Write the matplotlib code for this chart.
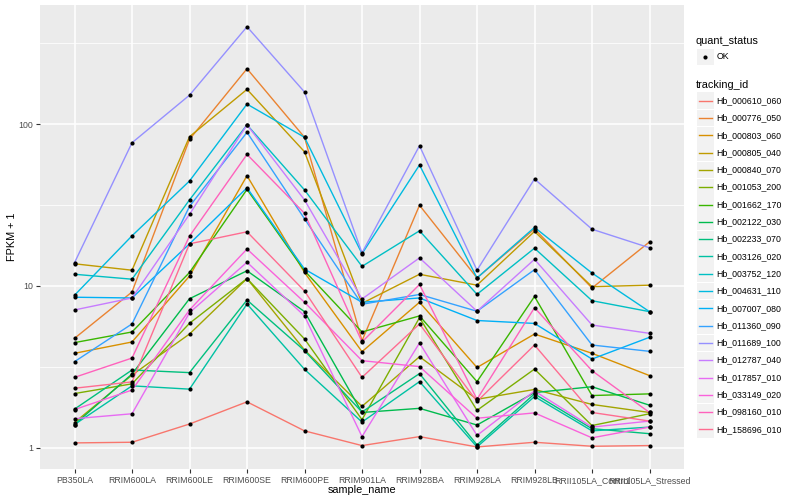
import matplotlib
matplotlib.use("Agg")
import matplotlib.pyplot as plt
from matplotlib.patches import Rectangle

plt.rcParams['font.family'] = ['Liberation Sans', 'DejaVu Sans']

# x categories
samples = ["PB350LA", "RRIM600LA", "RRIM600LE", "RRIM600SE", "RRIM600PE",
           "RRIM901LA", "RRIM928BA", "RRIM928LA", "RRIM928LB",
           "RRII105LA_Control", "RRII105LA_Stressed"]

# FPKM + 1 per gene
hb_000610_060 = [1.07, 1.08, 1.40, 1.92, 1.27, 1.03, 1.17, 1.01, 1.08, 1.02, 1.03]
hb_000776_050 = [4.74, 9.17, 80.5, 220, 82.9, 4.58, 31.5, 11.2, 22.5, 9.70, 18.7]
hb_000803_060 = [3.83, 4.50, 11.5, 48.0, 12.1, 3.92, 7.92, 3.13, 5.04, 3.83, 2.79]
hb_000805_040 = [13.7, 12.5, 83.6, 164, 67.5, 7.80, 11.8, 10.1, 21.7, 9.89, 10.1]
hb_000840_070 = [1.43, 2.81, 5.04, 11.1, 4.02, 1.80, 3.65, 1.99, 2.29, 1.85, 1.65]
hb_001053_200 = [2.16, 2.48, 5.87, 11.1, 4.70, 1.49, 6.36, 1.70, 3.06, 1.37, 1.62]
hb_001662_170 = [4.46, 5.19, 12.1, 39.5, 12.4, 5.19, 6.52, 2.56, 8.60, 2.10, 2.15]
hb_002122_030 = [1.39, 2.85, 8.33, 12.4, 6.93, 1.65, 1.75, 1.38, 2.19, 2.38, 1.83]
hb_002233_070 = [1.73, 3.02, 2.91, 8.18, 3.98, 1.66, 2.87, 1.04, 2.15, 1.31, 1.22]
hb_003126_020 = [1.39, 2.41, 2.30, 7.73, 3.05, 1.44, 2.56, 1.01, 2.07, 1.27, 1.34]
hb_003752_120 = [11.8, 11.0, 34.0, 99.0, 39.2, 13.2, 21.9, 8.87, 17.1, 8.10, 6.93]
hb_004631_110 = [8.75, 20.4, 44.5, 133, 82.9, 15.8, 55.9, 11.2, 23.0, 12.0, 6.93]
hb_007007_080 = [8.51, 8.42, 18.2, 40.4, 12.7, 7.92, 8.42, 6.11, 5.86, 3.53, 4.81]
hb_011360_090 = [3.40, 5.82, 31.0, 89.0, 26.0, 7.70, 8.85, 6.97, 12.6, 4.31, 3.94]
hb_011689_100 = [13.9, 76.7, 151, 400, 158, 16.0, 73.5, 12.5, 45.8, 22.4, 17.2]
hb_012787_040 = [7.10, 8.42, 27.7, 99.0, 34.0, 8.30, 14.9, 6.97, 14.6, 5.73, 5.09]
hb_017857_010 = [1.51, 1.62, 6.83, 14.0, 6.52, 1.17, 4.44, 1.19, 2.24, 1.34, 1.46]
hb_033149_020 = [1.72, 2.27, 7.10, 16.9, 7.92, 3.45, 3.17, 1.52, 1.64, 1.15, 1.34]
hb_098160_010 = [2.72, 3.58, 20.3, 65.0, 28.1, 4.50, 10.2, 1.99, 7.33, 2.99, 1.65]
hb_158696_010 = [2.33, 2.55, 18.2, 21.6, 9.30, 2.72, 5.82, 1.93, 4.31, 1.65, 1.46]

tracking_ids = ["Hb_000610_060", "Hb_000776_050", "Hb_000803_060", "Hb_000805_040",
                "Hb_000840_070", "Hb_001053_200", "Hb_001662_170", "Hb_002122_030",
                "Hb_002233_070", "Hb_003126_020", "Hb_003752_120", "Hb_004631_110",
                "Hb_007007_080", "Hb_011360_090", "Hb_011689_100", "Hb_012787_040",
                "Hb_017857_010", "Hb_033149_020", "Hb_098160_010", "Hb_158696_010"]
series = [hb_000610_060, hb_000776_050, hb_000803_060, hb_000805_040, hb_000840_070,
          hb_001053_200, hb_001662_170, hb_002122_030, hb_002233_070, hb_003126_020,
          hb_003752_120, hb_004631_110, hb_007007_080, hb_011360_090, hb_011689_100,
          hb_012787_040, hb_017857_010, hb_033149_020, hb_098160_010, hb_158696_010]

# ggplot hue palette for 20 levels
colors = ["#F8766D", "#EA8331", "#D89000", "#C09B00", "#A3A500", "#7CAE00", "#39B600",
          "#00BB4E", "#00BF7D", "#00C1A3", "#00BFC4", "#00BAE0", "#00B0F6", "#35A2FF",
          "#9590FF", "#C77CFF", "#E76BF3", "#FA62DB", "#FF62BC", "#FF6C91"]

fig = plt.figure(figsize=(8, 5), dpi=100)
ax = fig.add_axes([40 / 800, 1 - 469 / 500, 644 / 800, 464 / 500])
ax.set_facecolor("#EBEBEB")

x = list(range(len(samples)))
for vals, col in zip(series, colors):
    ax.plot(x, vals, color=col, lw=1.0, zorder=3)
for vals in series:
    ax.scatter(x, vals, s=9, color="black", marker="o", zorder=4, linewidths=0)

ax.set_yscale("log")
ax.set_ylim(0.738, 545)
ax.set_xlim(-0.6, 10.6)
ax.set_yticks([1, 10, 100])
ax.set_yticklabels(["1", "10", "100"])
ax.set_yticks([10 ** 0.5, 10 ** 1.5, 10 ** 2.5], minor=True)
ax.set_yticklabels([], minor=True)
ax.set_xticks(x)
ax.set_xticklabels(samples)

ax.grid(which="major", color="white", lw=1.1, zorder=1)
ax.grid(which="minor", axis="y", color="white", lw=0.55, zorder=1)
ax.set_axisbelow(True)
for s in ax.spines.values():
    s.set_visible(False)
ax.tick_params(which="major", length=3, width=0.8, color="#333333",
               labelsize=6.3, labelcolor="#4D4D4D", pad=2)
ax.tick_params(which="minor", length=0)

ax.set_xlabel("sample_name", fontsize=7.8, labelpad=0)
ax.set_ylabel("FPKM + 1", fontsize=7.8, labelpad=1)

# legends drawn in pixel space
lax = fig.add_axes([0, 0, 1, 1])
lax.set_xlim(0, 800)
lax.set_ylim(500, 0)
lax.axis("off")

lax.text(696, 41, "quant_status", fontsize=7.8, va="center", ha="left")
lax.add_patch(Rectangle((697, 48.5), 16.5, 16.5, facecolor="#F2F2F2", edgecolor="none"))
lax.scatter([705], [56.7], s=9, color="black", linewidths=0)
lax.text(716.5, 56.7, "OK", fontsize=6.3, va="center", ha="left")

lax.text(696, 84.5, "tracking_id", fontsize=7.8, va="center", ha="left")
for i, (tid, col) in enumerate(zip(tracking_ids, colors)):
    yc = 100.7 + 17.3 * i
    lax.add_patch(Rectangle((697, yc - 8.4), 16.5, 16.8, facecolor="#F2F2F2",
                            edgecolor="none"))
    lax.plot([698.5, 711.5], [yc, yc], color=col, lw=1.0)
    lax.text(716.5, yc, tid, fontsize=6.3, va="center", ha="left")

fig.savefig("out.png", dpi=100)
